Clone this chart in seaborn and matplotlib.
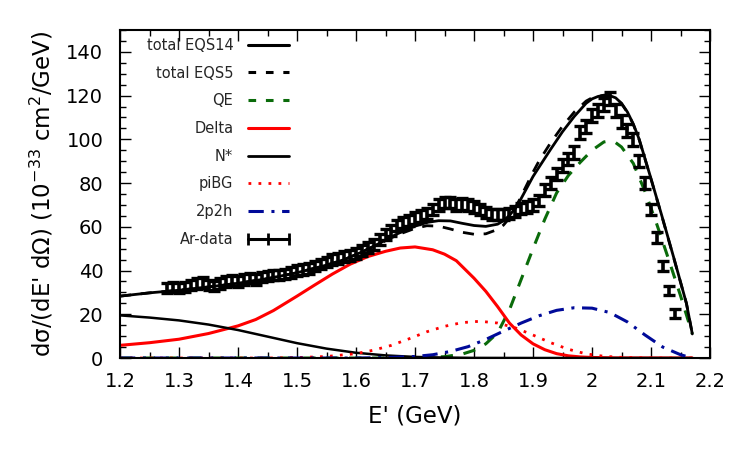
import numpy as np
import matplotlib
matplotlib.use("Agg")
import matplotlib.pyplot as plt
from matplotlib.ticker import MultipleLocator, FuncFormatter
from matplotlib.lines import Line2D
import seaborn as sns

# ---------------- data ----------------
# model curves (E' in GeV, cross section in 1e-33 cm^2/GeV)
x_tot = [1.20, 1.25, 1.30, 1.35, 1.40, 1.45, 1.50, 1.55, 1.58, 1.61, 1.64, 1.67, 1.70, 1.72,
         1.74, 1.76, 1.78, 1.80, 1.82, 1.84, 1.85, 1.86, 1.87, 1.88, 1.89, 1.90, 1.91, 1.93,
         1.95, 1.97, 1.99, 2.00, 2.01, 2.02, 2.03, 2.04, 2.05, 2.06, 2.07, 2.08, 2.10, 2.12,
         2.14, 2.16, 2.17]
total_eqs14 = [28.3, 29.8, 31.0, 32.5, 34.2, 36.3, 39.0, 42.5, 45.0, 48.5, 52.5, 56.8, 60.3, 62.0,
               62.8, 62.7, 61.6, 60.6, 60.2, 61.2, 62.8, 65.2, 68.5, 73.0, 78.0, 83.0, 87.2, 95.5,
               103.5, 110.5, 116.5, 118.5, 119.6, 120.2, 120.0, 119.0, 116.5, 112.5, 107.0, 100.0, 82.0, 63.5,
               44.5, 25.0, 11.0]
total_eqs5 = [28.3, 29.8, 31.0, 32.5, 34.2, 36.3, 39.0, 42.5, 45.0, 48.5, 52.3, 56.3, 59.3, 60.5,
              60.3, 59.0, 57.5, 56.6, 56.8, 58.8, 60.8, 64.0, 68.5, 74.0, 79.5, 85.0, 90.0, 98.5,
              106.0, 112.5, 117.5, 119.0, 119.8, 120.0, 119.8, 118.8, 116.3, 112.3, 106.8, 99.8, 81.8, 63.3,
              44.3, 25.0, 11.0]

x_delta = [1.20, 1.25, 1.30, 1.35, 1.40, 1.43, 1.46, 1.50, 1.53, 1.56, 1.59, 1.62, 1.65, 1.675,
           1.70, 1.73, 1.75, 1.77, 1.80, 1.82, 1.84, 1.86, 1.88, 1.90, 1.92, 1.94, 1.96, 1.98,
           2.00, 2.04, 2.17]
delta = [5.8, 7.0, 8.6, 11.2, 14.7, 17.6, 21.7, 28.3, 33.4, 38.4, 42.9, 46.4, 48.8, 50.3,
         50.8, 49.5, 47.5, 44.5, 36.5, 30.5, 23.5, 16.0, 10.5, 6.5, 3.8, 2.0, 1.0, 0.5,
         0.25, 0.05, 0.0]

x_nstar = [1.20, 1.25, 1.30, 1.35, 1.40, 1.45, 1.50, 1.55, 1.60, 1.65, 1.70, 1.75, 1.80, 1.90, 2.17]
nstar = [19.5, 18.5, 17.2, 15.3, 12.8, 9.8, 6.8, 4.3, 2.4, 1.2, 0.5, 0.2, 0.05, 0.0, 0.0]

x_pibg = [1.20, 1.45, 1.50, 1.55, 1.60, 1.63, 1.66, 1.69, 1.72, 1.75, 1.78, 1.81, 1.84, 1.87,
          1.90, 1.93, 1.96, 1.99, 2.02, 2.05, 2.10, 2.17]
pibg = [0.0, 0.0, 0.2, 0.7, 2.0, 3.6, 5.8, 8.8, 12.0, 14.5, 16.2, 16.8, 16.0, 13.8,
        10.5, 7.0, 4.0, 1.9, 0.8, 0.3, 0.0, 0.0]

x_qe = [1.20, 1.65, 1.70, 1.75, 1.78, 1.80, 1.82, 1.84, 1.86, 1.88, 1.90, 1.92, 1.94, 1.96,
        1.98, 2.00, 2.02, 2.03, 2.04, 2.05, 2.07, 2.09, 2.11, 2.13, 2.15, 2.17]
qe = [0.0, 0.0, 0.1, 0.6, 1.8, 3.5, 6.5, 11.5, 22.0, 36.0, 50.0, 63.5, 75.5, 83.5,
      89.5, 95.0, 98.8, 99.3, 98.5, 96.5, 89.0, 76.0, 61.0, 45.0, 28.5, 11.0]

x_2p2h = [1.20, 1.60, 1.65, 1.70, 1.73, 1.76, 1.79, 1.82, 1.85, 1.88, 1.91, 1.94, 1.97, 2.00,
          2.03, 2.06, 2.09, 2.12, 2.15, 2.17]
twop2h = [0.0, 0.0, 0.2, 0.7, 1.5, 3.0, 5.2, 8.5, 12.3, 16.0, 19.3, 21.8, 23.0, 22.8,
          20.8, 16.5, 10.5, 5.0, 1.5, 0.0]

# Ar data
x_data = [1.28, 1.29, 1.30, 1.31, 1.32, 1.33, 1.34, 1.35, 1.36, 1.37, 1.38, 1.39, 1.40, 1.41,
          1.42, 1.43, 1.44, 1.45, 1.46, 1.47, 1.48, 1.49, 1.50, 1.51, 1.52, 1.53, 1.54, 1.55,
          1.56, 1.57, 1.58, 1.59, 1.60, 1.61, 1.62, 1.63, 1.64, 1.65, 1.66, 1.67, 1.68, 1.69,
          1.70, 1.71, 1.72, 1.73, 1.74, 1.75, 1.76, 1.77, 1.78, 1.79, 1.80, 1.81, 1.82, 1.83,
          1.84, 1.85, 1.86, 1.87, 1.88, 1.89, 1.90, 1.91, 1.92, 1.93, 1.94, 1.95, 1.96, 1.97,
          1.98, 1.99, 2.00, 2.01, 2.02, 2.03, 2.04, 2.05, 2.06, 2.07, 2.08, 2.09, 2.10, 2.11,
          2.12, 2.13, 2.14]
y_data = [32.0, 32.5, 32.0, 32.5, 33.5, 34.0, 34.5, 33.5, 33.0, 34.0, 35.0, 35.5, 35.0, 36.0,
          36.5, 36.0, 37.0, 37.5, 38.0, 38.0, 38.5, 39.0, 40.0, 40.5, 41.0, 42.0, 43.0, 44.0,
          45.0, 45.5, 46.5, 47.0, 48.0, 49.0, 50.5, 52.0, 54.0, 56.5, 58.5, 60.5, 62.0, 63.0,
          64.0, 65.0, 66.0, 68.0, 70.0, 71.0, 71.0, 70.0, 70.5, 70.0, 69.0, 68.0, 66.5, 65.5,
          65.5, 65.5, 66.0, 67.0, 68.5, 69.0, 70.0, 72.0, 77.0, 80.0, 84.0, 88.0, 91.0, 94.0,
          103.0, 106.0, 111.0, 113.0, 116.0, 118.5, 113.0, 108.0, 104.0, 100.0, 90.0, 80.0, 68.0, 55.0,
          42.0, 31.0, 20.5]
err_data = [2.4, 2.4, 2.4, 2.4, 2.4, 2.4, 2.4, 2.4, 2.4, 2.4, 2.4, 2.4, 2.4, 2.4,
            2.4, 2.4, 2.4, 2.4, 2.4, 2.4, 2.4, 2.4, 2.4, 2.4, 2.4, 2.4, 2.4, 2.4,
            2.5, 2.5, 2.5, 2.5, 2.5, 2.5, 2.5, 2.5, 2.5, 2.5, 2.5, 2.5, 2.5, 2.5,
            2.6, 2.6, 2.6, 2.6, 2.6, 2.6, 2.6, 2.6, 2.6, 2.6, 2.6, 2.6, 2.6, 2.6,
            2.6, 2.6, 2.6, 2.6, 2.6, 2.6, 2.6, 2.6, 2.8, 2.8, 2.8, 2.8, 2.8, 2.8,
            3.0, 3.0, 3.0, 3.0, 3.0, 3.0, 3.0, 3.0, 3.0, 3.0, 2.8, 2.8, 2.5, 2.5,
            2.2, 2.0, 2.0]

labels = ["total EQS14", "total EQS5", "QE", "Delta", "N*", "piBG", "2p2h", "Ar-data"]
x_ticks = [1.2, 1.3, 1.4, 1.5, 1.6, 1.7, 1.8, 1.9, 2.0, 2.1, 2.2]
y_ticks = [0, 20, 40, 60, 80, 100, 120, 140]

# ---------------- style ----------------
sns.set_theme(style="ticks")
plt.rcParams["font.family"] = ["DejaVu Sans"]

GREEN = "#0a6b0a"
RED = "#ff0000"
NAVY = "#000a99"
BLACK = "#000000"

fig = plt.figure(figsize=(7.5, 4.5), dpi=100)
ax = fig.add_axes([0.16, 0.2044, 0.7867, 0.7289])

ls_dash = (0, (4.0, 3.5))
ls_dot = (0, (1.0, 2.6))
ls_dashdot = (0, (5.0, 2.5, 1.0, 2.5))

sns.lineplot(x=x_qe, y=qe, ax=ax, color=GREEN, lw=2.2, linestyle=ls_dash)
sns.lineplot(x=x_delta, y=delta, ax=ax, color=RED, lw=2.2)
sns.lineplot(x=x_nstar, y=nstar, ax=ax, color=BLACK, lw=1.8)
sns.lineplot(x=x_pibg, y=pibg, ax=ax, color=RED, lw=2.0, linestyle=ls_dot)
sns.lineplot(x=x_2p2h, y=twop2h, ax=ax, color=NAVY, lw=2.2, linestyle=ls_dashdot)
ax.errorbar(x_data, y_data, yerr=err_data, fmt="none", ecolor=BLACK,
            elinewidth=2.6, capsize=4.5, capthick=2.4, zorder=3)
sns.lineplot(x=x_tot, y=total_eqs5, ax=ax, color=BLACK, lw=2.0, linestyle=ls_dash)
sns.lineplot(x=x_tot, y=total_eqs14, ax=ax, color=BLACK, lw=2.0)

ax.set_xlim(1.2, 2.2)
ax.set_ylim(0, 150)
ax.set_xticks(x_ticks)
ax.set_yticks(y_ticks)
ax.xaxis.set_minor_locator(MultipleLocator(0.05))
ax.yaxis.set_minor_locator(MultipleLocator(5))
ax.xaxis.set_major_formatter(FuncFormatter(lambda v, p: f"{v:g}"))
ax.tick_params(which="both", direction="in", top=True, right=True,
               color=BLACK, width=1.0, labelsize=14, labelcolor=BLACK)
ax.tick_params(which="major", length=8)
ax.tick_params(which="minor", length=4)
ax.tick_params(axis="x", which="major", pad=10)
ax.tick_params(axis="y", which="major", pad=12)
for s in ax.spines.values():
    s.set_visible(True)
    s.set_color(BLACK)
    s.set_linewidth(1.5)

ax.set_xlabel("E' (GeV)", fontsize=16.5, color=BLACK, labelpad=10)
ax.set_ylabel("dσ/(dE' dΩ) (10$^{-33}$ cm$^{2}$/GeV)", fontsize=16.5, color=BLACK, labelpad=8)

handles = [
    Line2D([], [], color=BLACK, lw=2.2),
    Line2D([], [], color=BLACK, lw=2.2, linestyle=(0, (2.5, 3.2))),
    Line2D([], [], color=GREEN, lw=2.2, linestyle=(0, (2.5, 3.2))),
    Line2D([], [], color=RED, lw=2.2),
    Line2D([], [], color=BLACK, lw=2.0),
    Line2D([], [], color=RED, lw=2.0, linestyle=ls_dot),
    Line2D([], [], color=NAVY, lw=2.2, linestyle=ls_dashdot),
    Line2D([], [], color=BLACK, lw=2.2, marker="|", markersize=9, markeredgewidth=2.0),
]
leg = ax.legend(handles, labels, loc="upper left", bbox_to_anchor=(0.045, 0.976),
                frameon=False, markerfirst=False, fontsize=10.5, numpoints=3,
                handlelength=3.4, handletextpad=0.7, labelspacing=0.87,
                borderpad=0, borderaxespad=0)

fig.savefig("out.png", dpi=100)
